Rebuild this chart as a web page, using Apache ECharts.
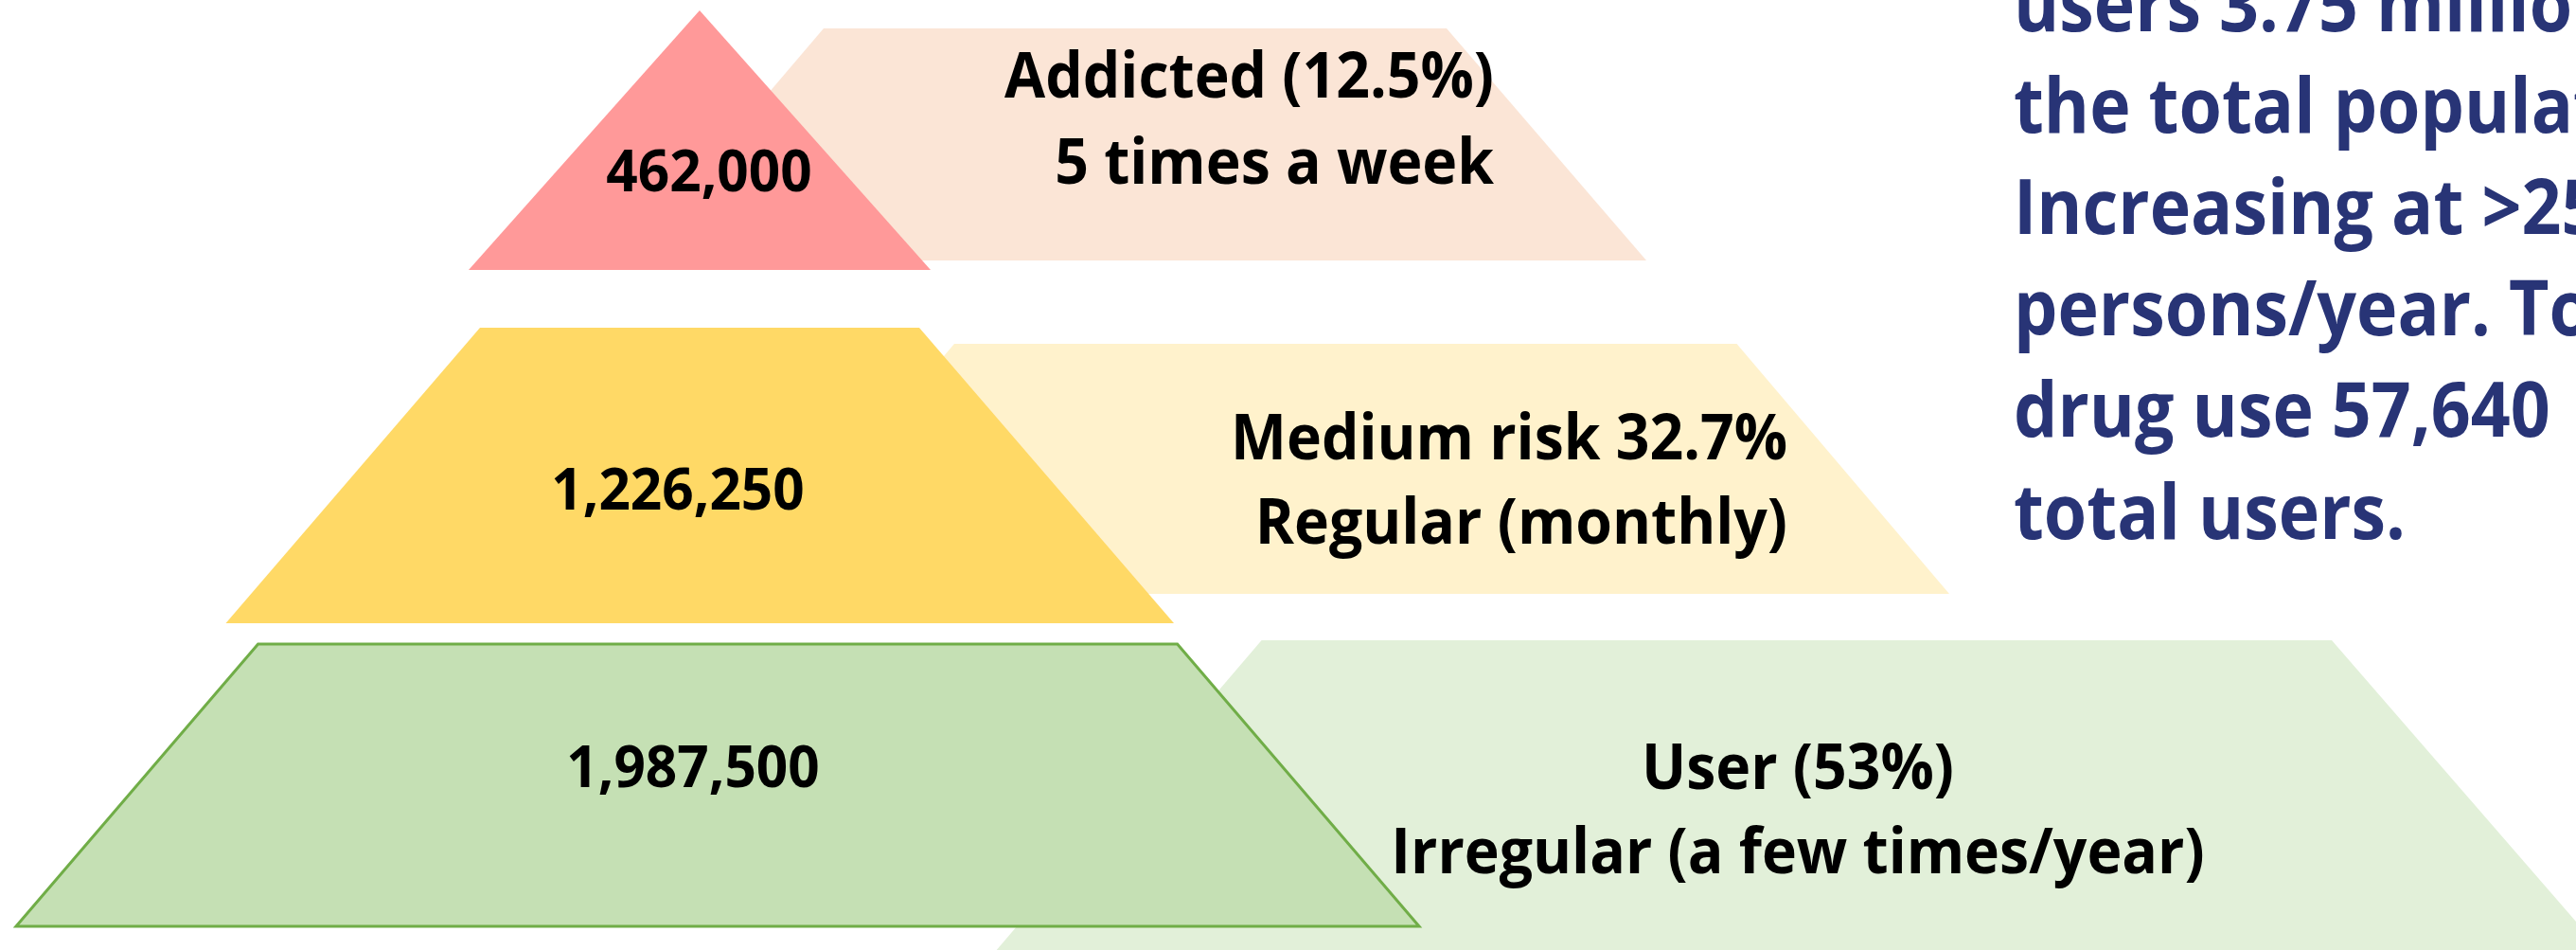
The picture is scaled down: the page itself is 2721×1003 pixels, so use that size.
<!DOCTYPE html>
<html>
<head>
<meta charset="utf-8">
<script src="https://cdn.jsdelivr.net/npm/echarts@6/dist/echarts.min.js"></script>
<style>
  html, body { margin: 0; padding: 0; background: #ffffff; }
  #chart { width: 2721px; height: 1003px; }
</style>
</head>
<body>
<div id="chart"></div>
<script>
// ---------------- data ----------------
const levels = ['Addicted', 'Medium risk', 'User'];
const persons = [462000, 1226250, 1987500];
const shares = ['12.5%', '32.7%', '53%'];
const shareTemplates = ['Addicted ({p})', 'Medium risk {p}', 'User ({p})'];
const frequencies = ['5 times a week', 'Regular (monthly)', 'Irregular (a few times/year)'];
const noteLines = [
  'users 3.75 million',
  'the total population.',
  'Increasing at >25,000',
  'persons/year. Total',
  'drug use 57,640',
  'total users.'
];

// ---------------- layout & style (pixel space of a hidden 2721 x 1003 axis) ----------------
const W = 2721, H = 1003;
const FONT = '"Open Sans", Lato, "Noto Sans", sans-serif';
const LAYOUT = [
  { // Addicted
    front: { top: 11, bottom: 285, tl: 739, tr: 739, bl: 495, br: 983, fill: '#FF9999' },
    back:  { top: 30, bottom: 275, tl: 870, tr: 1528, bl: 661, br: 1739, fill: '#FBE5D6' },
    num:   { x: 749, base: 202, w: 218 },
    desc:  { x: 1578, base1: 103, base2: 194, align: 'right', w1: 526, w2: 462 }
  },
  { // Medium risk
    front: { top: 346, bottom: 658, tl: 507, tr: 971, bl: 238.5, br: 1240, fill: '#FFD966' },
    back:  { top: 363, bottom: 627, tl: 1008, tr: 1834.5, bl: 784, br: 2059, fill: '#FFF2CC' },
    num:   { x: 716, base: 538, w: 266 },
    desc:  { x: 1888, base1: 485, base2: 574, align: 'right', w1: 590, w2: 556 }
  },
  { // User
    front: { top: 680, bottom: 978, tl: 272.6, tr: 1243.6, bl: 17, br: 1499, fill: '#C5E0B4', stroke: '#70AD47' },
    back:  { top: 676, bottom: 1003, tl: 1332.6, tr: 2463, bl: 1052.7, br: 2747, fill: '#E2F0D9' },
    num:   { x: 732, base: 831, w: 268 },
    desc:  { x: 1899, base1: 833, base2: 922, align: 'center', w1: 332, w2: 854 }
  }
];
const NUM_SIZE = 61, DESC_SIZE = 66, NOTE_SIZE = 81;
const MID = 0.29; // rendered text middle above baseline (em)
const NOTE = { x: 2127, firstBase: 33, lineGap: 107.2, color: '#283476',
               fitW: [378, 416], fitText: ['Increasing', 'total users.'] };

// horizontal condensing so the installed font matches the reference glyph widths
const mctx = document.createElement('canvas').getContext('2d');
function measure(text, size) { mctx.font = 'bold ' + size + 'px ' + FONT; return mctx.measureText(text).width; }
function fit(pairs, size) {
  let t = 0, m = 0;
  pairs.forEach(p => { t += p[1]; m += measure(p[0], size); });
  return t / m;
}
const descLabel = i => shareTemplates[i].replace('{p}', shares[i]);
const NUM_SX = fit(persons.map((v, i) => [v.toLocaleString('en-US'), LAYOUT[i].num.w]), NUM_SIZE);
const DESC_SX = fit([].concat(...levels.map((_, i) => [[descLabel(i), LAYOUT[i].desc.w1], [frequencies[i], LAYOUT[i].desc.w2]])), DESC_SIZE);
const NOTE_SX = fit(NOTE.fitText.map((t, k) => [t, NOTE.fitW[k]]), NOTE_SIZE);

function poly(api, s) {
  return [
    api.coord([s.tl, s.top]), api.coord([s.tr, s.top]),
    api.coord([s.br, s.bottom]), api.coord([s.bl, s.bottom])
  ];
}
function textEl(api, x, base, text, size, align, sx, color) {
  const p = api.coord([x, base - MID * size]);
  return {
    type: 'text', x: p[0], y: p[1], scaleX: sx,
    style: {
      text: text, fill: color || '#000000',
      font: 'bold ' + size + 'px ' + FONT,
      align: align, verticalAlign: 'middle'
    }
  };
}

const data = persons.map((v, i) => ({ name: levels[i], value: [i, v] }));

const option = {
  animation: false,
  backgroundColor: '#ffffff',
  grid: { left: 0, right: 0, top: 0, bottom: 0 },
  xAxis: { type: 'value', min: 0, max: W, show: false },
  yAxis: { type: 'value', min: 0, max: H, inverse: true, show: false },
  series: [
    {
      type: 'custom', name: 'background', clip: true, z: 1,
      data: data,
      renderItem: function (params, api) {
        const i = api.value(0);
        const L = LAYOUT[i];
        return {
          type: 'polygon',
          shape: { points: poly(api, L.back) },
          style: { fill: L.back.fill }
        };
      }
    },
    {
      type: 'custom', name: 'levels', clip: true, z: 2,
      data: data,
      renderItem: function (params, api) {
        const i = api.value(0);
        const v = api.value(1);
        const L = LAYOUT[i];
        const children = [];
        children.push({
          type: 'polygon',
          shape: { points: poly(api, L.front) },
          style: L.front.stroke
            ? { fill: L.front.fill, stroke: L.front.stroke, lineWidth: 3 }
            : { fill: L.front.fill }
        });
        children.push(textEl(api, L.num.x, L.num.base, v.toLocaleString('en-US'), NUM_SIZE, 'center', NUM_SX));
        children.push(textEl(api, L.desc.x, L.desc.base1, descLabel(i), DESC_SIZE, L.desc.align, DESC_SX));
        children.push(textEl(api, L.desc.x, L.desc.base2, frequencies[i], DESC_SIZE, L.desc.align, DESC_SX));
        return { type: 'group', children: children };
      }
    }
  ],
  graphic: noteLines.map((t, k) => ({
    type: 'text',
    x: NOTE.x,
    y: NOTE.firstBase + k * NOTE.lineGap - MID * NOTE_SIZE,
    scaleX: NOTE_SX,
    z: 10,
    style: {
      text: t, fill: NOTE.color,
      font: 'bold ' + NOTE_SIZE + 'px ' + FONT,
      align: 'left', verticalAlign: 'middle'
    }
  }))
};

const chart = echarts.init(document.getElementById('chart'), null, { renderer: 'canvas' });
chart.setOption(option);
</script>
</body>
</html>
